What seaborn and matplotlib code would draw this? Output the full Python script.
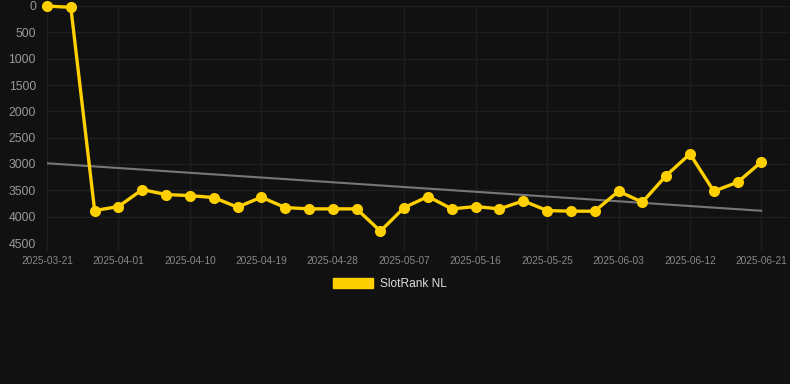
import matplotlib
matplotlib.use("Agg")
import matplotlib.pyplot as plt
from matplotlib.patches import Patch
import seaborn as sns
import pandas as pd
import numpy as np

dates = ["2025-03-21", "2025-03-25", "2025-03-28", "2025-04-01", "2025-04-04",
         "2025-04-07", "2025-04-10", "2025-04-13", "2025-04-16", "2025-04-19",
         "2025-04-22", "2025-04-25", "2025-04-28", "2025-05-01", "2025-05-04",
         "2025-05-07", "2025-05-10", "2025-05-13", "2025-05-16", "2025-05-19",
         "2025-05-22", "2025-05-25", "2025-05-28", "2025-05-31", "2025-06-03",
         "2025-06-06", "2025-06-09", "2025-06-12", "2025-06-15", "2025-06-18",
         "2025-06-21"]
rank = [1, 25, 3884, 3808, 3486, 3580, 3600, 3637, 3820, 3630,
        3827, 3852, 3852, 3852, 4275, 3827, 3618, 3852, 3808, 3852,
        3700, 3884, 3896, 3896, 3517, 3725, 3220, 2808, 3517, 3346,
        2960]
y_ticks = [0, 500, 1000, 1500, 2000, 2500, 3000, 3500, 4000, 4500]
series_name = "SlotRank NL"

BG = "#111111"
GRID = "#1e1e1e"
YELLOW = "#FFD000"

sns.set_theme(style="dark")
plt.rcParams["font.family"] = ["Liberation Sans", "DejaVu Sans"]

df = pd.DataFrame({"idx": np.arange(len(dates)), "date": dates, "rank": rank})

fig = plt.figure(figsize=(7.9, 3.84), dpi=100, facecolor=BG)
ax = fig.add_axes([47 / 790, 1 - 243 / 384, 1 - 47 / 790, (243 - 6) / 384])
ax.set_facecolor(BG)

sns.regplot(data=df, x="idx", y="rank", ax=ax, scatter=False, ci=None,
            truncate=True, color="#777777", line_kws={"linewidth": 1.5, "zorder": 2})
sns.lineplot(data=df, x="idx", y="rank", ax=ax, color=YELLOW, linewidth=2.4,
             marker="o", markersize=8, markeredgewidth=0, zorder=3, clip_on=False)

ax.set_ylim(4500, 0)
ax.set_xlim(0, 31.2)
ax.set_yticks(y_ticks)
ax.set_yticklabels([str(v) for v in y_ticks])
xt = list(range(0, len(dates), 3))
ax.set_xticks(xt)
ax.set_xticklabels([dates[i] for i in xt])

ax.grid(True, color=GRID, linewidth=1)
for s in ax.spines.values():
    s.set_visible(False)
ax.tick_params(axis="y", length=0, pad=8, labelsize=8.8, labelcolor="#999999")
ax.tick_params(axis="x", length=6, width=1, color=GRID, pad=3, labelsize=7.3,
               labelcolor="#888888", bottom=True)
ax.set_xlabel("")
ax.set_ylabel("")

handle = Patch(facecolor=YELLOW, edgecolor=YELLOW, label=series_name)
fig.legend(handles=[handle], loc="center", bbox_to_anchor=(390 / 790, 1 - 284 / 384),
           frameon=False, fontsize=8.6, labelcolor="#dddddd",
           handlelength=3.3, handleheight=1.0, handletextpad=0.6)

fig.savefig("out.png", dpi=100, facecolor=BG)
